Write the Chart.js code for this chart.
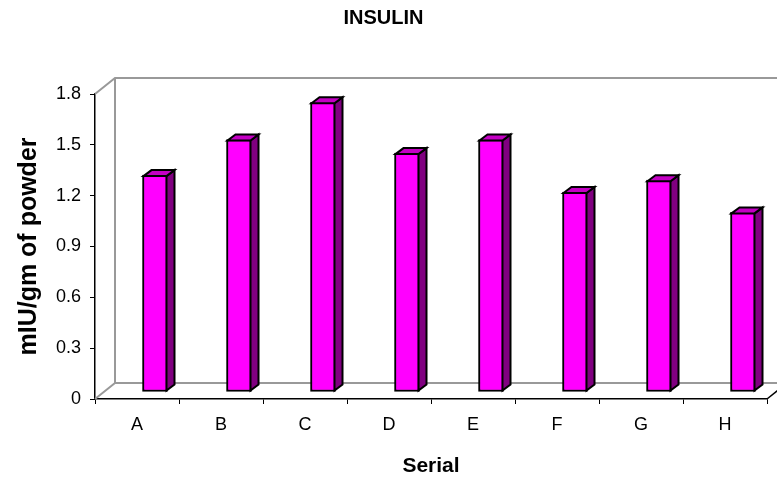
<!DOCTYPE html>
<html>
<head>
<meta charset="utf-8">
<title>INSULIN</title>
<script src="https://cdn.jsdelivr.net/npm/chart.js@4.4.1/dist/chart.umd.min.js"></script>
<style>
  html, body { margin: 0; padding: 0; background: #ffffff; }
  canvas { display: block; }
</style>
</head>
<body>
<canvas id="insulinChart" width="777" height="479"></canvas>
<script>
    // Chart data
    const categories = ['A', 'B', 'C', 'D', 'E', 'F', 'G', 'H'];
    const insulinValues = [1.28, 1.49, 1.71, 1.41, 1.49, 1.18, 1.25, 1.06];
    const yTickLabels = ['0', '0.3', '0.6', '0.9', '1.2', '1.5', '1.8'];

    // Pseudo 3D look (Excel style)
    const wallDx = 20, wallDy = -16;   // back wall offset
    const barDx = 18, barDy = -7;      // bars sit half way into the depth
    const faceDx = 8, faceDy = -6;     // bar side / top depth

    const threeD = {
        id: 'threeD',
        beforeDatasetsDraw(chart) {
            const ctx = chart.ctx;
            const a = chart.chartArea;
            const farRight = chart.width + 10;

            ctx.save();
            ctx.strokeStyle = '#999999';
            ctx.lineWidth = 2;
            ctx.beginPath();
            // top left edge + back wall top
            ctx.moveTo(a.left, a.top);
            ctx.lineTo(a.left + wallDx, a.top + wallDy);
            ctx.lineTo(farRight, a.top + wallDy);
            // back wall left edge + floor back edge
            ctx.moveTo(a.left + wallDx, a.top + wallDy);
            ctx.lineTo(a.left + wallDx, a.bottom + wallDy);
            ctx.lineTo(farRight, a.bottom + wallDy);
            // floor left edge
            ctx.moveTo(a.left, a.bottom);
            ctx.lineTo(a.left + wallDx, a.bottom + wallDy);
            ctx.stroke();

            // floor right edge
            ctx.strokeStyle = '#000000';
            ctx.lineWidth = 1.5;
            ctx.beginPath();
            ctx.moveTo(a.right, a.bottom);
            ctx.lineTo(a.right + wallDx, a.bottom + wallDy);
            ctx.stroke();
            ctx.restore();

            // shift the front faces of the bars into the depth
            ctx.save();
            ctx.translate(barDx, barDy);
        },
        afterDatasetsDraw(chart) {
            const ctx = chart.ctx;
            const meta = chart.getDatasetMeta(0);

            ctx.lineWidth = 2;
            ctx.strokeStyle = '#000000';
            ctx.lineJoin = 'miter';

            meta.data.forEach(function(bar) {
                const p = bar.getProps(['x', 'y', 'base', 'width'], true);
                const l = p.x - p.width / 2 + 1;
                const r = p.x + p.width / 2 - 1;
                const top = p.y + 1;
                const bottom = p.base - 1;

                // side face
                ctx.beginPath();
                ctx.moveTo(r, top);
                ctx.lineTo(r + faceDx, top + faceDy);
                ctx.lineTo(r + faceDx, bottom + faceDy);
                ctx.lineTo(r, bottom);
                ctx.closePath();
                ctx.fillStyle = '#800080';
                ctx.fill();
                ctx.stroke();

                // top face
                ctx.beginPath();
                ctx.moveTo(l, top);
                ctx.lineTo(l + faceDx, top + faceDy);
                ctx.lineTo(r + faceDx, top + faceDy);
                ctx.lineTo(r, top);
                ctx.closePath();
                ctx.fillStyle = '#C400C4';
                ctx.fill();
                ctx.stroke();
            });

            ctx.restore();
        }
    };

    const fontFamily = "Arial, 'Liberation Sans', sans-serif";

    new Chart(document.getElementById('insulinChart'), {
        type: 'bar',
        data: {
            labels: categories,
            datasets: [{
                label: 'INSULIN',
                data: insulinValues,
                backgroundColor: '#FF00FF',
                borderColor: '#000000',
                borderWidth: 2,
                borderSkipped: false,
                barThickness: 25
            }]
        },
        options: {
            responsive: false,
            animation: false,
            layout: {
                padding: { left: 0, right: 10, top: 0, bottom: 0 }
            },
            plugins: {
                legend: { display: false },
                tooltip: { enabled: false },
                title: {
                    display: true,
                    text: 'INSULIN',
                    color: '#000000',
                    font: { family: fontFamily, size: 20, weight: 'bold' },
                    padding: { top: 6, bottom: 64 }
                }
            },
            scales: {
                x: {
                    grid: {
                        offset: true,
                        drawOnChartArea: false,
                        drawTicks: true,
                        tickLength: 5,
                        color: '#000000'
                    },
                    border: { display: true, color: '#000000', width: 1.5 },
                    ticks: {
                        color: '#000000',
                        font: { family: fontFamily, size: 18 },
                        padding: 10,
                        autoSkip: false,
                        maxRotation: 0
                    },
                    title: {
                        display: true,
                        text: 'Serial',
                        color: '#000000',
                        font: { family: fontFamily, size: 21, weight: 'bold' },
                        padding: { top: 0, bottom: 0 }
                    },
                    afterFit: function(scale) {
                        scale.height = 80;
                    }
                },
                y: {
                    min: 0,
                    max: 1.8,
                    grid: {
                        drawOnChartArea: false,
                        drawTicks: true,
                        tickLength: 5,
                        color: '#000000'
                    },
                    border: { display: true, color: '#000000', width: 1.5 },
                    ticks: {
                        stepSize: 0.3,
                        color: '#000000',
                        font: { family: fontFamily, size: 18 },
                        padding: 9,
                        callback: function(value, index) {
                            return yTickLabels[index];
                        }
                    },
                    title: {
                        display: true,
                        text: 'mIU/gm of powder',
                        color: '#000000',
                        font: { family: fontFamily, size: 25, weight: 'bold' },
                        padding: { top: 14, bottom: 0 }
                    },
                    afterFit: function(scale) {
                        scale.width = 95;
                    }
                }
            }
        },
        plugins: [threeD]
    });
</script>
</body>
</html>
